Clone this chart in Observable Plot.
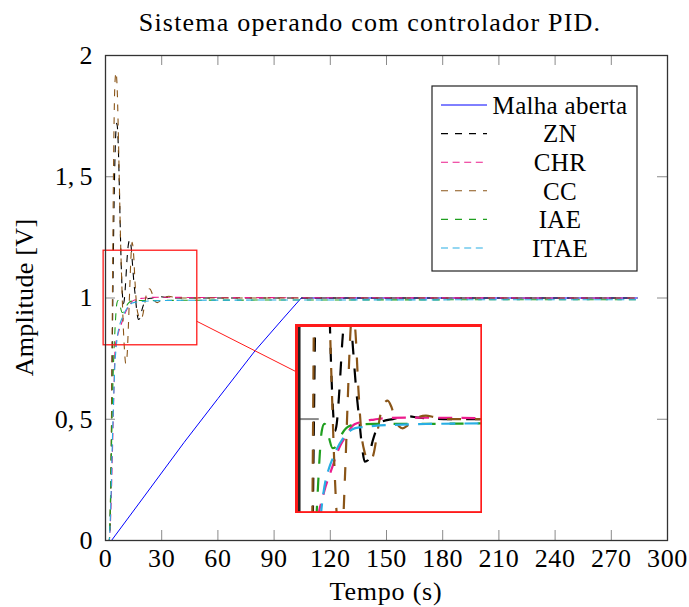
<!DOCTYPE html>
<html>
<head>
<meta charset="utf-8">
<script src="https://cdn.jsdelivr.net/npm/d3@7"></script>
<script src="https://cdn.jsdelivr.net/npm/@observablehq/plot@0.6"></script>
<style>
  body { margin: 0; background: #fff; }
  #chart { position: relative; width: 689px; height: 607px; overflow: hidden; }
  #chart svg { display: block; }
</style>
</head>
<body>
<div id="chart"></div>
<script>
// ---------------- data ----------------
const title = "Sistema operando com controlador PID.";
const xLabel = "Tempo (s)";
const yLabel = "Amplitude [V]";
const xTicks = [0, 30, 60, 90, 120, 150, 180, 210, 240, 270, 300];
const yTicks = [0, 0.5, 1, 1.5, 2];

const seriesNames = ["Malha aberta", "ZN", "CHR", "CC", "IAE", "ITAE"];
const seriesColors = ["#0000ff", "#000000", "#ec1c8c", "#8a5518", "#1f9f1f", "#29aee3"];

const tOpen = [0, 3.2, 20, 42, 60, 80, 95, 104.5, 284];
const vOpen = [0, 0, 0.175, 0.405, 0.585, 0.784, 0.917, 1.0, 1.0];

const tZN = [0, 2, 2.5, 3, 3.5, 4, 4.5, 5, 5.5, 6, 6.5, 7, 7.5, 8, 8.5, 9, 9.5, 10, 10.8, 11.5, 12.2, 13, 13.7, 14.4, 15.1, 16, 16.8, 17.5, 18.3, 19.6, 20.9, 22.2, 25, 28.5, 32, 40, 284];
const vZN = [0, 0, 0.08, 0.3, 0.7, 1.05, 1.35, 1.56, 1.68, 1.72, 1.69, 1.58, 1.42, 1.25, 1.11, 1.02, 0.975, 0.99, 1.07, 1.16, 1.22, 1.24, 1.21, 1.14, 1.07, 1.0, 0.94, 0.912, 0.915, 0.955, 0.984, 0.995, 1.0, 1.006, 1.003, 1.0, 1.0];

const tCHR = [0, 2, 2.5, 3, 3.5, 4, 4.5, 5.2, 6, 7, 8, 9, 9.8, 11, 12.5, 14.2, 16, 17.8, 20, 23.1, 30, 50, 284];
const vCHR = [0, 0, 0.05, 0.15, 0.3, 0.46, 0.62, 0.804, 0.83, 0.86, 0.883, 0.905, 0.924, 0.946, 0.966, 0.986, 0.993, 0.997, 0.999, 1.002, 1.003, 1.002, 1.0];

const tCC = [0, 2, 2.5, 3, 3.5, 4, 4.5, 5, 5.6, 6.2, 6.8, 7.4, 8, 8.7, 9.4, 10.1, 10.8, 11.5, 12.2, 12.9, 13.6, 14.2, 15, 15.8, 16.6, 17.5, 18.4, 19.1, 19.9, 20.8, 21.7, 22.6, 23.6, 24.6, 25.6, 26.6, 27.6, 28.8, 30.2, 31.8, 33.8, 36, 39, 45, 284];
const vCC = [0, 0, 0.1, 0.35, 0.8, 1.3, 1.68, 1.88, 1.93, 1.87, 1.7, 1.47, 1.25, 1.06, 0.9, 0.79, 0.73, 0.76, 0.88, 1.03, 1.17, 1.23, 1.18, 1.06, 0.97, 0.93, 0.915, 0.914, 0.93, 0.97, 1.01, 1.032, 1.038, 1.025, 1.0, 0.985, 0.981, 0.986, 0.997, 1.004, 1.007, 1.004, 1.0, 1.0, 1.0];

const tIAE = [0, 2, 2.5, 3, 3.5, 4, 4.5, 5, 5.5, 6, 6.7, 7.3, 8, 8.9, 9.8, 10.7, 11.6, 12.5, 13.8, 16, 20, 30, 50, 284];
const vIAE = [0, 0, 0.12, 0.3, 0.5, 0.66, 0.78, 0.86, 0.93, 0.975, 0.99, 0.984, 0.96, 0.94, 0.943, 0.958, 0.972, 0.981, 0.987, 0.989, 0.99, 0.99, 0.991, 0.993];

const tITAE = [0, 2, 2.5, 3, 3.5, 4, 4.5, 5, 5.8, 6.5, 7.1, 8, 8.9, 10, 11.6, 13, 14.2, 16, 17.8, 20, 24.9, 35, 49, 284];
const vITAE = [0, 0, 0.08, 0.2, 0.36, 0.5, 0.62, 0.72, 0.804, 0.85, 0.876, 0.9, 0.918, 0.938, 0.959, 0.972, 0.979, 0.983, 0.984, 0.986, 0.988, 0.99, 0.991, 0.993];

// ---------------- layout / style ----------------
const W = 689, H = 607, mL = 105, mR = 22, mT = 55, mB = 67;
const plotW = W - mL - mR, plotH = H - mT - mB;
const tickLen = 10;
const FONT = "'Liberation Serif', 'DejaVu Serif', serif";
const lineWidths = [1, 1.1, 1.1, 1.1, 1.1, 1.1];
const dashes = [null, [7, 7], [7, 4.6], [7, 7], [7, 7], [7, 4.6]];
const curves = ["linear", "monotone-x", "monotone-x", "monotone-x", "monotone-x", "monotone-x"];

// spy region (data coordinates) and magnified inset
const spyT = [-1, 49], spyV = [0.805, 1.195];
const insetCenter = [151.5, 0.5];
const mag = 2;

const seriesT = [tOpen, tZN, tCHR, tCC, tIAE, tITAE];
const seriesV = [vOpen, vZN, vCHR, vCC, vIAE, vITAE];
const rows = seriesNames.map((name, i) => seriesT[i].map((t, j) => ({name, t, v: seriesV[i][j]})));

const curveMarks = (k) => rows.map((data, i) => Plot.line(data, {
  x: "t", y: "v",
  stroke: seriesColors[i],
  strokeWidth: lineWidths[i] * k,
  strokeDasharray: dashes[i] ? dashes[i].map(d => d * k).join(" ") : undefined,
  strokeLinecap: "butt",
  curve: curves[i]
}));

const fmtY = d => String(d).replace(".", ",\u2009");

const main = Plot.plot({
  width: W, height: H,
  marginLeft: mL, marginRight: mR, marginTop: mT, marginBottom: mB,
  style: {fontFamily: FONT, fontSize: "26px", background: "white", color: "black", overflow: "visible"},
  x: {domain: [0, 300]},
  y: {domain: [0, 2]},
  marks: [
    Plot.tickX(xTicks, {x: d => d, insetTop: plotH - tickLen, stroke: "#8a8a8a", strokeWidth: 1}),
    Plot.tickX(xTicks, {x: d => d, insetBottom: plotH - tickLen, stroke: "#8a8a8a", strokeWidth: 1}),
    Plot.tickY(yTicks, {y: d => d, insetRight: plotW - tickLen, stroke: "#8a8a8a", strokeWidth: 1}),
    Plot.tickY(yTicks, {y: d => d, insetLeft: plotW - tickLen, stroke: "#8a8a8a", strokeWidth: 1}),
    ...curveMarks(1),
    Plot.rect([0], {x1: () => spyT[0], x2: () => spyT[1], y1: () => spyV[0], y2: () => spyV[1], fill: "none", stroke: "#ff1a1a", strokeWidth: 1.3}),
    Plot.frame({stroke: "#333", strokeWidth: 1.3}),
    Plot.axisX(xTicks, {anchor: "bottom", tickSize: 0, tickPadding: 8, label: null, tickFormat: d => `${d}`, fontSize: 26}),
    Plot.axisY(yTicks, {anchor: "left", tickSize: 0, tickPadding: 13, label: null, tickFormat: fmtY, fontSize: 26})
  ]
});

const svg = d3.select(main);
svg.selectAll("[aria-label='x-axis tick label'] text").style("letter-spacing", "0.6px");
const sx = main.scale("x"), sy = main.scale("y");

// title and axis labels
svg.append("text").attr("x", 370).attr("y", 31).attr("text-anchor", "middle")
  .style("font-family", FONT).style("font-size", "26px").style("letter-spacing", "1.2px").text(title);
svg.append("text").attr("x", (mL + W - mR) / 2).attr("y", 600).attr("text-anchor", "middle")
  .style("font-family", FONT).style("font-size", "26px").style("letter-spacing", "0.8px").text(xLabel);
svg.append("text").attr("transform", `translate(33,${(mT + H - mB) / 2}) rotate(-90)`).attr("text-anchor", "middle")
  .style("font-family", FONT).style("font-size", "26px").style("letter-spacing", "0.3px").text(yLabel);

// legend
const lgX = W - mR - 30 - 205, lgY = mT + 31, lgW = 205, lgH = 185;
const lg = svg.append("g");
lg.append("rect").attr("x", lgX).attr("y", lgY).attr("width", lgW).attr("height", lgH)
  .attr("fill", "white").attr("stroke", "#222").attr("stroke-width", 1.2);
seriesNames.forEach((name, i) => {
  const yy = lgY + 19 + i * 28.6;
  lg.append("line").attr("x1", lgX + 9).attr("x2", lgX + 55).attr("y1", yy).attr("y2", yy)
    .attr("stroke", seriesColors[i]).attr("stroke-width", lineWidths[i])
    .attr("stroke-dasharray", dashes[i] ? dashes[i].join(" ") : null);
  lg.append("text").attr("x", lgX + 128).attr("y", yy).attr("dy", "0.35em").attr("text-anchor", "middle")
    .style("font-family", FONT).style("font-size", "25px").style("letter-spacing", "0.3px").text(name);
});

// inset geometry in pixels
const rx0 = sx.apply(spyT[0]), rx1 = sx.apply(spyT[1]);
const ry0 = sy.apply(spyV[1]), ry1 = sy.apply(spyV[0]);
const iw = (rx1 - rx0) * mag, ih = (ry1 - ry0) * mag;
const icx = sx.apply(insetCenter[0]), icy = sy.apply(insetCenter[1]);
const scx = (rx0 + rx1) / 2, scy = (ry0 + ry1) / 2;

// connector between spy rect and inset (only the part outside both boxes)
{
  const dx = icx - scx, dy = icy - scy;
  const s1 = Math.min(((rx1 - rx0) / 2) / Math.abs(dx), ((ry1 - ry0) / 2) / Math.abs(dy));
  const s2 = 1 - Math.min((iw / 2) / Math.abs(dx), (ih / 2) / Math.abs(dy));
  svg.append("line")
    .attr("x1", scx + dx * s1).attr("y1", scy + dy * s1)
    .attr("x2", scx + dx * s2).attr("y2", scy + dy * s2)
    .attr("stroke", "#ff1a1a").attr("stroke-width", 1);
}

document.getElementById("chart").appendChild(main);

// magnified inset
const inset = Plot.plot({
  width: iw, height: ih, margin: 0,
  style: {background: "white", overflow: "hidden"},
  x: {domain: spyT, axis: null},
  y: {domain: spyV, axis: null},
  marks: [
    Plot.tickY(yTicks, {y: d => d, insetLeft: (sx.apply(0) - rx0) * mag, insetRight: iw - (sx.apply(0) - rx0) * mag - tickLen * mag, stroke: "#8a8a8a", strokeWidth: 1 * mag}),
    Plot.ruleX([0], {stroke: "#222", strokeWidth: 1.3 * mag}),
    ...curveMarks(mag),
    Plot.frame({stroke: "#ff1a1a", strokeWidth: 5})
  ]
});
inset.style.position = "absolute";
inset.style.left = (icx - iw / 2) + "px";
inset.style.top = (icy - ih / 2) + "px";
document.getElementById("chart").appendChild(inset);
</script>
</body>
</html>
